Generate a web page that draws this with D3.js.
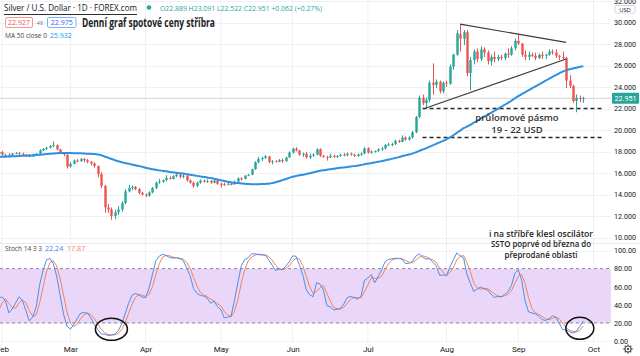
<!DOCTYPE html>
<html><head><meta charset="utf-8">
<script src="https://cdn.jsdelivr.net/npm/d3@7"></script>
<style>
body{margin:0;background:#fff;}
svg{display:block;font-family:"Open Sans",Roboto,sans-serif;}
</style></head>
<body><svg id="c" width="640" height="356"></svg>
<script>
// ---------------- DATA ----------------
const firstDate = "2020-01-02", visibleFrom = "2020-02-03", axisEnd = "2020-10-01";
// closes before January (for the 50-day MA)
const priorCloses = [17.06,17.04,16.98,16.95,16.99,16.98,17.10,16.87,16.92,16.56,16.60,16.65,16.82,16.90,17.02,17.04,17.11,17.05,17.18,17.16,17.46,17.67,17.72,17.86,17.89,17.80,17.84];
// daily [open, high, low, close]
const ohlcJan = [[17.9,18.1,17.85,18.07],[18.07,18.5,18.0,18.1],[18.1,18.4,18.0,18.1],[18.1,18.35,18.0,18.3],[18.3,18.8,17.9,18.0],[18.0,18.1,17.8,17.9],[17.9,18.2,17.85,18.1],[18.1,18.1,17.8,17.8],[17.8,17.9,17.6,17.7],[17.7,17.9,17.6,17.8],[17.8,17.95,17.7,17.9],[17.9,18.1,17.85,18.0],[18.0,18.1,17.95,18.05],[18.05,18.1,17.75,17.8],[17.8,17.9,17.75,17.85],[17.85,18.0,17.8,17.95],[17.95,18.2,17.9,18.1],[18.1,18.2,17.9,18.0],[18.0,18.05,17.5,17.6],[17.6,17.75,17.45,17.65],[17.65,17.95,17.55,17.8],[17.8,18.1,17.7,17.95]];
const ohlcFeb = [[17.95,18.05,17.6,17.7],[17.7,17.8,17.55,17.7],[17.7,17.85,17.6,17.65],[17.65,17.85,17.6,17.8],[17.8,17.95,17.75,17.85],[17.85,17.95,17.7,17.8],[17.8,17.9,17.65,17.7],[17.7,17.75,17.55,17.6],[17.6,17.75,17.5,17.55],[17.55,17.8,17.5,17.75],[17.75,17.85,17.7,17.8],[17.8,18.2,17.75,18.1],[18.1,18.3,18.05,18.25],[18.25,18.45,18.15,18.35],[18.35,18.6,18.3,18.5],[18.5,18.95,18.4,18.6],[18.6,18.65,18.1,18.2],[18.2,18.25,17.85,17.9],[17.9,17.95,17.55,17.7],[17.7,17.75,16.4,16.6]];
const ohlcMar = [[16.6,17.0,16.5,16.85],[16.85,17.25,16.8,17.15],[17.15,17.3,17.0,17.1],[17.1,17.4,17.05,17.3],[17.3,17.4,17.0,17.2],[17.2,17.3,16.9,17.05],[17.05,17.1,16.7,16.9],[16.9,17.0,16.5,16.65],[16.65,16.7,15.6,15.9],[15.9,16.1,14.6,14.8],[14.8,14.9,12.3,12.8],[12.8,13.1,12.3,12.6],[12.6,12.8,11.65,12.0],[12.0,12.6,11.7,12.35],[12.35,12.9,12.1,12.6],[12.6,13.4,12.4,13.2],[13.2,14.5,13.1,14.3],[14.3,14.9,14.2,14.6],[14.6,14.85,14.4,14.7],[14.7,14.8,14.4,14.5],[14.5,14.6,14.0,14.15],[14.15,14.25,13.9,14.0]];
const ohlcApr = [[14.0,14.1,13.75,13.9],[13.9,14.3,13.8,14.2],[14.2,14.7,14.1,14.6],[14.6,15.2,14.5,15.1],[15.1,15.45,15.0,15.2],[15.2,15.4,15.1,15.35],[15.35,15.8,15.25,15.55],[15.55,15.7,15.4,15.45],[15.45,15.8,15.4,15.7],[15.7,16.0,15.6,15.85],[15.85,15.9,15.5,15.65],[15.65,15.9,15.5,15.75],[15.75,15.8,15.2,15.3],[15.3,15.4,15.0,15.1],[15.1,15.2,14.6,14.8],[14.8,15.2,14.7,15.1],[15.1,15.4,15.0,15.3],[15.3,15.4,15.1,15.2],[15.2,15.4,15.1,15.25],[15.25,15.35,15.0,15.1],[15.1,15.4,15.05,15.3],[15.3,15.4,14.9,15.0]];
const ohlcMay = [[15.0,15.1,14.65,14.95],[14.95,15.1,14.8,14.9],[14.9,15.1,14.85,15.0],[15.0,15.15,14.85,14.95],[14.95,15.3,14.9,15.2],[15.2,15.6,15.15,15.5],[15.5,15.6,15.3,15.45],[15.45,15.8,15.4,15.75],[15.75,15.9,15.7,15.85],[15.85,16.4,15.8,16.35],[16.35,17.1,16.3,17.0],[17.0,17.5,16.9,17.3],[17.3,17.5,17.1,17.4],[17.4,17.7,17.3,17.55],[17.55,17.6,16.9,17.05],[17.05,17.2,16.8,17.1],[17.1,17.2,17.0,17.05],[17.05,17.3,17.0,17.2],[17.2,17.35,16.95,17.1],[17.1,17.5,17.05,17.45],[17.45,18.0,17.4,17.9]];
const ohlcJun = [[17.9,18.35,17.8,18.25],[18.25,18.4,18.0,18.1],[18.1,18.15,17.6,17.7],[17.7,17.9,17.5,17.8],[17.8,17.95,17.35,17.45],[17.45,17.8,17.3,17.6],[17.6,17.85,17.5,17.7],[17.7,18.3,17.65,18.2],[18.2,18.3,17.5,17.6],[17.6,17.7,17.4,17.5],[17.5,17.6,17.15,17.45],[17.45,17.8,17.4,17.6],[17.6,17.7,17.4,17.5],[17.5,17.65,17.4,17.6],[17.6,17.8,17.5,17.7],[17.7,17.85,17.55,17.65],[17.65,17.9,17.55,17.8],[17.8,17.9,17.6,17.7],[17.7,17.8,17.5,17.6],[17.6,17.8,17.5,17.75],[17.75,17.9,17.6,17.8],[17.8,18.4,17.75,18.3]];
const ohlcJul = [[18.3,18.4,17.8,17.9],[17.9,18.1,17.8,18.0],[18.0,18.1,17.9,18.05],[18.05,18.3,17.95,18.2],[18.2,18.4,18.05,18.3],[18.3,18.7,18.2,18.6],[18.6,18.8,18.5,18.65],[18.65,18.8,18.5,18.7],[18.7,19.1,18.6,19.0],[19.0,19.1,18.8,18.9],[18.9,19.5,18.85,19.3],[19.3,19.4,19.0,19.1],[19.1,19.4,19.0,19.3],[19.3,19.9,19.2,19.8],[19.8,21.3,19.7,21.2],[21.2,23.2,21.1,23.0],[23.0,23.3,22.3,22.5],[22.5,23.0,22.0,22.8],[22.8,24.6,22.6,24.4],[24.4,26.2,23.3,24.2],[24.2,24.7,23.9,24.5],[24.5,24.6,23.4,23.6],[23.6,24.5,23.4,24.4]];
const ohlcAug = [[24.4,24.6,24.0,24.3],[24.3,26.1,24.2,25.9],[25.9,27.1,25.6,27.0],[27.0,29.3,26.9,29.0],[28.9,29.85,27.3,28.5],[28.5,29.3,27.9,29.1],[29.1,29.3,25.0,25.3],[25.3,26.8,23.7,26.5],[26.5,27.5,26.1,27.3],[27.3,27.6,26.3,26.6],[26.6,27.8,26.4,27.5],[27.5,27.7,26.8,27.2],[27.2,27.4,26.1,26.4],[26.4,27.0,26.0,26.8],[26.8,27.3,26.3,26.6],[26.6,27.0,26.4,26.8],[26.8,27.0,26.5,26.7],[26.7,27.2,26.5,27.1],[27.1,27.6,26.7,27.0],[27.0,27.8,26.9,27.6],[27.6,28.5,27.4,28.3]];
const ohlcSep = [[28.3,28.9,27.9,28.05],[28.05,28.1,26.8,27.0],[27.0,27.4,26.5,26.8],[26.8,27.3,26.5,27.0],[27.0,27.2,26.8,26.9],[26.9,27.2,26.5,26.7],[26.7,27.1,26.6,27.0],[27.0,27.3,26.6,26.9],[26.9,27.1,26.6,27.0],[27.0,27.5,26.9,27.3],[27.3,27.5,27.0,27.2],[27.2,27.5,26.7,26.9],[26.9,27.0,26.5,26.8],[26.8,27.3,26.6,26.7],[26.7,26.8,23.9,24.6],[24.6,25.1,23.9,24.1],[24.1,24.2,22.5,22.7],[22.7,23.3,21.65,23.0],[23.0,23.2,22.6,22.9],[22.889,23.091,22.522,22.951]];

const priceTicks = [10,12,14,16,18,20,22,24,26,28,30,32];
const stochTicks = [0,20,40,60,80,100];
const stochBand = [20,80];
const maPeriod = 50, stochLen = 14, stochSmoothK = 3, stochSmoothD = 3;
const breakoutBand = [19.3, 22.0];
const bandLabel = ["průlomové pásmo", "19 - 22 USD"];
const triangleUpper = [["2020-08-07",29.85],["2020-09-21",28.15]];
const triangleLower = [["2020-07-24",22.05],["2020-09-21",26.6]];
const ellipseMarks = [["2020-03-18",13],["2020-09-25",14]];
const noteLines = ["i na stříbře klesl oscilátor","SSTO poprvé od března do","přeprodané oblasti"];
const titleText = "Denní graf spotové ceny stříbra";
const symbolText = "Silver / U.S. Dollar · 1D · FOREX.com";
const ohlcText = "O22.889 H23.091 L22.522 C22.951 +0.062 (+0.27%)";
const bidAsk = ["22.927","48","22.975"];
const maText = ["MA 50 close 0","25.932"];
const stochText = ["Stoch 14 3 3","22.24","17.87"];
const lastPrice = 22.951;

// ---------------- SETUP ----------------
const GREEN="#26a69a", RED="#ef5350", TXT="#131722";
const svg = d3.select("#c");
const plotRight = 611, priceBottom = 243, stochBottom = 343;
const parse = d3.utcParse("%Y-%m-%d");
const dates = d3.utcDays(parse(firstDate), d3.utcDay.offset(parse(axisEnd),1)).filter(d=>d.getUTCDay()%6!==0);
const idxOf = s => dates.findIndex(d=>+d===+parse(s));
const i0 = idxOf(visibleFrom);

const ohlc = [].concat(ohlcJan,ohlcFeb,ohlcMar,ohlcApr,ohlcMay,ohlcJun,ohlcJul,ohlcAug,ohlcSep);
const candles = ohlc.map((r,i)=>({i,date:dates[i],o:r[0],h:r[1],l:r[2],c:r[3]}));

// MA
const allCloses = priorCloses.concat(candles.map(d=>d.c));
const off = priorCloses.length;
candles.forEach(d=>{
  const k = d.i+off;
  const s = allCloses.slice(Math.max(0,k-maPeriod+1),k+1);
  d.ma = d3.mean(s);
});
// Stochastic
const raw = candles.map((d,i)=>{
  if(i<stochLen-1) return null;
  const w = candles.slice(i-stochLen+1,i+1);
  const hh = d3.max(w,e=>e.h), ll = d3.min(w,e=>e.l);
  return 100*(d.c-ll)/(hh-ll);
});
const sma = (arr,n)=>arr.map((v,i)=>{
  if(i<n-1) return null;
  const w = arr.slice(i-n+1,i+1);
  return w.some(e=>e==null)?null:d3.mean(w);
});
const kLine = sma(raw,stochSmoothK), dLine = sma(kLine,stochSmoothD);

const x = d3.scaleLinear().domain([i0, dates.length-1]).range([2,593.5]);
const yP = d3.scaleLinear().domain([10,30]).range([237.5,22.5]);
const yS = d3.scaleLinear().domain([0,100]).range([341,250.5]);

const defs = svg.append("defs");
defs.append("clipPath").attr("id","cp").append("rect").attr("x",0).attr("y",0).attr("width",plotRight).attr("height",priceBottom);
defs.append("clipPath").attr("id","cs").append("rect").attr("x",0).attr("y",priceBottom).attr("width",plotRight).attr("height",stochBottom-priceBottom);

// month indices
const monthIdx = dates.map((d,i)=>i).filter(i=>i>=i0 && dates[i].getUTCMonth()!==dates[i-1].getUTCMonth());

// grid
const grid = svg.append("g");
grid.selectAll(".vg").data(monthIdx).join("line")
  .attr("x1",d=>x(d)).attr("x2",d=>x(d)).attr("y1",0).attr("y2",stochBottom)
  .attr("stroke","#eef0f4").attr("stroke-width",1);
grid.selectAll(".hg").data(priceTicks).join("line")
  .attr("x1",0).attr("x2",plotRight).attr("y1",d=>Math.round(yP(d))+0.5).attr("y2",d=>Math.round(yP(d))+0.5)
  .attr("stroke","#eef0f4");
grid.selectAll(".sg").data(stochTicks).join("line")
  .attr("x1",0).attr("x2",plotRight).attr("y1",d=>Math.round(yS(d))+0.5).attr("y2",d=>Math.round(yS(d))+0.5)
  .attr("stroke","#f2f3f6");

// separator
svg.append("line").attr("x1",0).attr("x2",640).attr("y1",priceBottom+0.5).attr("y2",priceBottom+0.5).attr("stroke","#e6e8ee");

// ---------------- PRICE PANE ----------------
const pg = svg.append("g").attr("clip-path","url(#cp)");
pg.append("line").attr("x1",0).attr("x2",plotRight).attr("y1",yP(lastPrice)).attr("y2",yP(lastPrice))
  .attr("stroke","#c9d8d6").attr("stroke-width",1);
pg.selectAll(".bb").data(breakoutBand).join("line")
  .attr("x1",x(idxOf("2020-07-23"))).attr("x2",603)
  .attr("y1",d=>yP(d)).attr("y2",d=>yP(d))
  .attr("stroke","#2a2a2a").attr("stroke-width",1.6).attr("stroke-dasharray","4,3");
const cg = pg.append("g");
cg.selectAll(".w").data(candles).join("line")
  .attr("x1",d=>Math.round(x(d.i))+0.5).attr("x2",d=>Math.round(x(d.i))+0.5)
  .attr("y1",d=>yP(d.h)).attr("y2",d=>yP(d.l))
  .attr("stroke",d=>d.c>=d.o?GREEN:RED).attr("stroke-width",1);
cg.selectAll(".b").data(candles).join("rect")
  .attr("x",d=>Math.round(x(d.i))-0.7).attr("width",2.4)
  .attr("y",d=>yP(Math.max(d.o,d.c))).attr("height",d=>Math.max(1,Math.abs(yP(d.o)-yP(d.c))))
  .attr("fill",d=>d.c>=d.o?GREEN:RED);
pg.append("path").datum(candles).attr("fill","none").attr("stroke","#2f8fe0").attr("stroke-width",2)
  .attr("d",d3.line().x(d=>x(d.i)).y(d=>yP(d.ma)).curve(d3.curveMonotoneX));
[triangleUpper,triangleLower].forEach(t=>{
  pg.append("line").attr("x1",x(idxOf(t[0][0]))).attr("y1",yP(t[0][1]))
    .attr("x2",x(idxOf(t[1][0]))).attr("y2",yP(t[1][1]))
    .attr("stroke","#3a3a3a").attr("stroke-width",1.1);
});
pg.selectAll(".bl").data(bandLabel).join("text")
  .attr("x",517).attr("y",(d,i)=>121+i*11.5).attr("text-anchor","middle")
  .attr("font-size",9.5).attr("font-weight",600).attr("fill","#333").text(d=>d);

// ---------------- STOCH PANE ----------------
const sg = svg.append("g").attr("clip-path","url(#cs)");
sg.append("rect").attr("x",0).attr("width",plotRight).attr("y",yS(stochBand[1])).attr("height",yS(stochBand[0])-yS(stochBand[1]))
  .attr("fill","#ead6f8");
sg.selectAll(".bd").data(stochBand).join("line")
  .attr("x1",0).attr("x2",plotRight).attr("y1",d=>yS(d)).attr("y2",d=>yS(d))
  .attr("stroke","#8a8d96").attr("stroke-width",1).attr("stroke-dasharray","3,3");
const sline = arr => d3.line().defined((d,i)=>arr[i]!=null).x((d,i)=>x(i)).y((d,i)=>yS(arr[i]));
sg.append("path").datum(candles).attr("fill","none").attr("stroke","#f0845e").attr("stroke-width",1).attr("d",sline(dLine));
sg.append("path").datum(candles).attr("fill","none").attr("stroke","#4d8fe6").attr("stroke-width",1).attr("d",sline(kLine));
svg.selectAll(".el").data(ellipseMarks).join("ellipse")
  .attr("cx",d=>x(idxOf(d[0]))).attr("cy",d=>yS(d[1]))
  .attr("rx",(d,i)=>i===0?16:14).attr("ry",11)
  .attr("fill","none").attr("stroke","#111").attr("stroke-width",1.5);
const noteW = [104,100,73];
svg.selectAll(".nt").data(noteLines).join("text")
  .attr("x",541).attr("y",(d,i)=>236.5+i*10.8).attr("text-anchor","middle")
  .attr("font-size",8).attr("font-weight",600).attr("fill","#222")
  .attr("textLength",(d,i)=>noteW[i]).attr("lengthAdjust","spacingAndGlyphs").text(d=>d);

// ---------------- AXES ----------------
const axP = svg.append("g").attr("transform",`translate(${plotRight+3},0)`)
  .call(d3.axisRight(yP).tickValues(priceTicks).tickFormat(d3.format(".3f")).tickSize(0).tickPadding(0));
const axS = svg.append("g").attr("transform",`translate(${plotRight+3},0)`)
  .call(d3.axisRight(yS).tickValues(stochTicks).tickFormat(d3.format(".2f")).tickSize(0).tickPadding(0));
const axT = svg.append("g").attr("transform",`translate(0,${stochBottom})`)
  .call(d3.axisBottom(x).tickValues(monthIdx).tickFormat(i=>d3.utcFormat("%b")(dates[i])).tickSize(0).tickPadding(3));
[axP,axS,axT].forEach(a=>{
  a.select(".domain").remove();
  a.selectAll("text").attr("fill",TXT).attr("font-size",7.2).attr("font-family","Roboto,sans-serif");
});
axT.selectAll("text").attr("font-size",8);
svg.append("rect").attr("x",615).attr("y",5.5).attr("width",20).attr("height",7.5).attr("fill","#fff").attr("stroke","#c8cbd3").attr("stroke-width",0.8).attr("rx",1.5);
svg.append("text").attr("x",625).attr("y",11.5).attr("text-anchor","middle").attr("font-size",5.8).attr("fill",TXT).text("USD");
svg.append("rect").attr("x",612).attr("y",yP(lastPrice)-5.5).attr("width",27).attr("height",11).attr("fill",GREEN).attr("rx",1);
svg.append("text").attr("x",625.5).attr("y",yP(lastPrice)+2.6).attr("text-anchor","middle").attr("font-size",7.2).attr("fill","#fff").attr("font-family","Roboto,sans-serif").text(d3.format(".3f")(lastPrice));
const gear = svg.append("g").attr("transform","translate(628,349)");
d3.range(8).forEach(k=>{
  const a = k*Math.PI/4;
  gear.append("line").attr("x1",Math.cos(a)*3).attr("y1",Math.sin(a)*3).attr("x2",Math.cos(a)*4.6).attr("y2",Math.sin(a)*4.6).attr("stroke","#555").attr("stroke-width",1.4);
});
gear.append("circle").attr("r",3).attr("fill","#fff").attr("stroke","#555").attr("stroke-width",1.1);
gear.append("circle").attr("r",1.2).attr("fill","#555");

// ---------------- HEADER ----------------
const hdr = svg.append("g");
const fit = (sel,w)=>sel.attr("textLength",w).attr("lengthAdjust","spacingAndGlyphs");
fit(hdr.append("text").attr("x",4).attr("y",11).attr("font-size",9).attr("fill",TXT).text(symbolText),133);
hdr.append("line").attr("x1",4).attr("x2",137).attr("y1",14.5).attr("y2",14.5).attr("stroke","#2a2e39").attr("stroke-width",1.2);
hdr.append("circle").attr("cx",149).attr("cy",7.5).attr("r",2.3).attr("fill",GREEN);
fit(hdr.append("text").attr("x",160).attr("y",10.5).attr("font-size",7.5).attr("fill",GREEN).text(ohlcText),162);
hdr.append("rect").attr("x",5.5).attr("y",17.5).attr("width",27).attr("height",10).attr("fill","#fff").attr("stroke","#f09a98").attr("rx",1.5);
hdr.append("text").attr("x",19).attr("y",25.3).attr("text-anchor","middle").attr("font-size",7).attr("fill",RED).text(bidAsk[0]);
hdr.append("text").attr("x",40).attr("y",25).attr("text-anchor","middle").attr("font-size",5.5).attr("fill","#777").text(bidAsk[1]);
hdr.append("rect").attr("x",47.5).attr("y",17.5).attr("width",28.5).attr("height",10).attr("fill","#fff").attr("stroke","#7fb2f0").attr("rx",1.5);
hdr.append("text").attr("x",61.8).attr("y",25.3).attr("text-anchor","middle").attr("font-size",7).attr("fill","#2962ff").text(bidAsk[2]);
fit(hdr.append("text").attr("x",82).attr("y",27).attr("font-size",11.5).attr("font-weight",700).attr("fill","#222").text(titleText),133);
fit(hdr.append("text").attr("x",5).attr("y",38).attr("font-size",7).attr("fill","#444").text(maText[0]),42);
hdr.append("text").attr("x",50).attr("y",38).attr("font-size",7).attr("fill","#2196f3").text(maText[1]);
const sl = svg.append("g");
fit(sl.append("text").attr("x",5).attr("y",251).attr("font-size",7).attr("fill","#444").text(stochText[0]),37);
sl.append("text").attr("x",45).attr("y",251).attr("font-size",7.2).attr("fill","#3d86e6").text(stochText[1]);
sl.append("text").attr("x",67).attr("y",251).attr("font-size",7.2).attr("fill","#f0845e").text(stochText[2]);
</script>
</body></html>
